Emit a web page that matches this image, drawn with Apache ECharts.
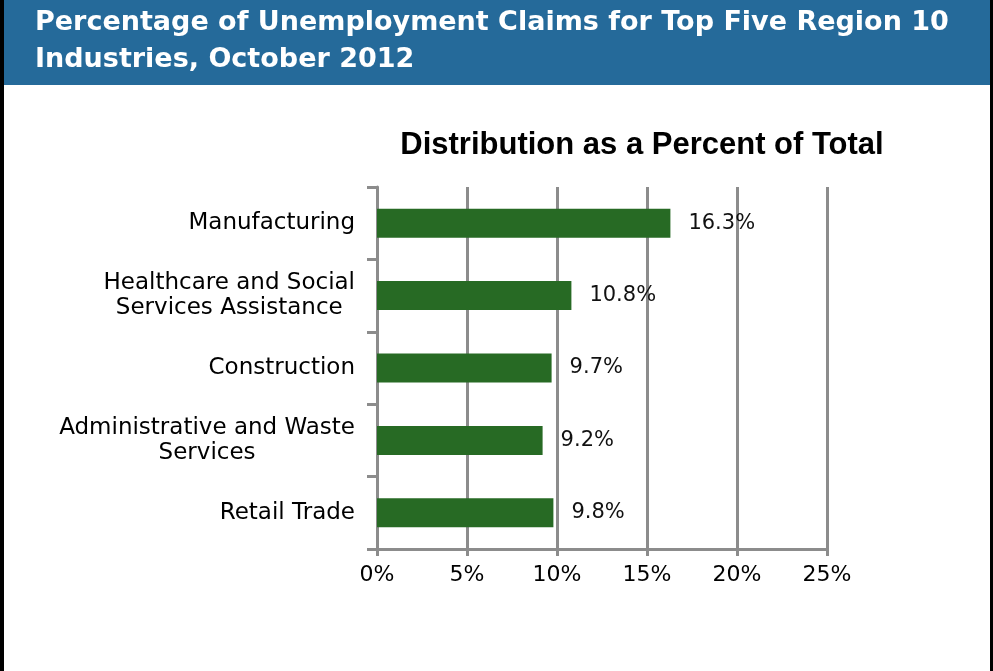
<!DOCTYPE html>
<html>
<head>
<meta charset="utf-8">
<script src="https://cdn.jsdelivr.net/npm/echarts@6/dist/echarts.min.js"></script>
<style>
html,body{margin:0;padding:0;background:#fff;}
#chart{width:993px;height:671px;}
</style>
</head>
<body>
<div id="chart"></div>
<script>
const headerTitle = 'Percentage of Unemployment Claims for Top Five Region 10\nIndustries, October 2012';
const chartTitle = 'Distribution as a Percent of Total';
const categories = ['Manufacturing', 'Healthcare and Social\nServices Assistance', 'Construction', 'Administrative and Waste\nServices', 'Retail Trade'];
const values = [16.3, 10.8, 9.7, 9.2, 9.8];
const xTicks = [0, 5, 10, 15, 20, 25];

const FONT = '"Liberation Sans", Arial, Helvetica, sans-serif';
const WIDE = '"DejaVu Sans", Verdana, sans-serif';
const chart = echarts.init(document.getElementById('chart'), null, {renderer: 'canvas'});
chart.setOption({
  backgroundColor: '#ffffff',
  animation: false,
  graphic: [
    {type: 'rect', z: 0, shape: {x: 4, y: 0, width: 986, height: 85}, style: {fill: '#256A9A'}},
    {type: 'rect', z: 0, shape: {x: 0, y: 0, width: 4, height: 671}, style: {fill: '#000000'}},
    {type: 'rect', z: 0, shape: {x: 990, y: 0, width: 3, height: 671}, style: {fill: '#000000'}}
  ],
  title: [
    {
      text: headerTitle, left: 35, top: 4, padding: 0, z: 10,
      textStyle: {color: '#ffffff', fontFamily: WIDE, fontWeight: 'bold', fontSize: 27, lineHeight: 37}
    },
    {
      text: chartTitle, left: 637, top: 125, textAlign: 'center',
      textStyle: {color: '#000000', fontFamily: FONT, fontWeight: 'bold', fontSize: 31}
    }
  ],
  grid: {left: 377, right: 166, top: 187, bottom: 122, containLabel: false},
  xAxis: {
    type: 'value', min: xTicks[0], max: xTicks[xTicks.length - 1], interval: 5,
    axisLine: {show: true, lineStyle: {color: '#8c8c8c', width: 3}},
    axisTick: {show: true, length: 7, lineStyle: {color: '#8c8c8c', width: 3}},
    splitLine: {show: true, lineStyle: {color: '#8c8c8c', width: 3}},
    axisLabel: {margin: 15, color: '#000', fontFamily: WIDE, fontSize: 22, formatter: v => v + '%'}
  },
  yAxis: {
    type: 'category', inverse: true, data: categories,
    axisLine: {show: true, lineStyle: {color: '#8c8c8c', width: 3}},
    axisTick: {show: true, length: 10, lineStyle: {color: '#8c8c8c', width: 3}},
    axisLabel: {
      margin: 22,
      formatter: v => v.split('\n').map(l => '{c|' + l + '}').join('\n'),
      rich: {c: {align: 'center', color: '#000', fontFamily: WIDE, fontSize: 23, lineHeight: 25}}
    }
  },
  series: [{
    type: 'bar', data: values, barWidth: 29,
    itemStyle: {color: '#276A24'},
    label: {show: true, position: 'right', distance: 18, color: '#111', fontFamily: WIDE, fontSize: 21,
      formatter: p => p.value.toFixed(1) + '%'}
  }]
});
</script>
</body>
</html>
